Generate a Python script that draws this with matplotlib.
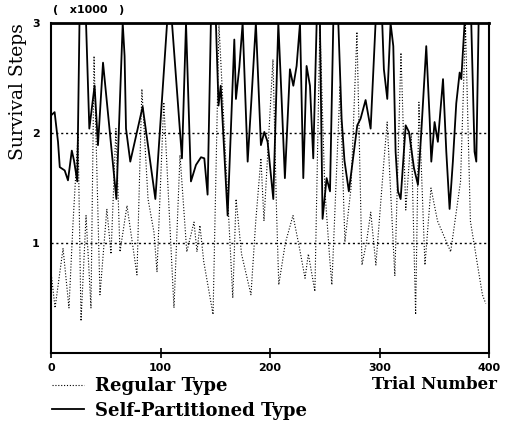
import numpy as np
import matplotlib
matplotlib.use('Agg')
import matplotlib.pyplot as plt
from matplotlib.lines import Line2D

#%% data (survival steps in units of 1000)
self_trial = [0, 3.3, 6.4, 8, 12.5, 15.5, 19, 21, 24, 26, 32, 35, 39.8, 42.9, 47.5,
              59.7, 65.5, 67.2, 68.5, 72.4, 83.7, 95.3, 106, 110.5, 119.6, 123.3,
              127.8, 132.4, 137, 140, 143, 146, 150.6, 153, 155, 161.3, 167.4,
              168.9, 172, 175, 179.6, 183, 187.1, 191.7, 194.8, 197.8, 203, 207.6,
              210.6, 213.6, 218.2, 221.3, 224.3, 227.4, 230.4, 233.4, 236.5, 239.5,
              242.6, 245.6, 248, 251.7, 254.8, 257.8, 262.4, 265.4, 268, 272,
              279.7, 282.7, 287.3, 291.9, 296.4, 302.5, 304, 307.1, 310.1, 312.6,
              314.7, 316.9, 319.3, 323.9, 326.9, 331.5, 335.1, 338, 342.7, 345.8,
              347.3, 350.3, 353.3, 358, 361, 364, 367, 370.1, 373.2, 374.7, 377.7,
              383.8, 386.8, 388.4, 390.5, 396]
self_steps = [2.16, 2.19, 1.92, 1.69, 1.66, 1.57, 1.84, 1.75, 1.56, 3.0, 3.0, 2.04, 2.43,
              1.89, 2.64, 1.40, 3.0, 2.70, 2.04, 1.74, 2.24, 1.40, 3.0, 3.0, 1.77, 3.0,
              1.56, 1.71, 1.78, 1.77, 1.44, 3.0, 3.0, 2.25, 2.43, 1.25, 2.85, 2.31,
              2.60, 3.0, 1.74, 2.30, 3.0, 1.89, 2.01, 1.92, 1.40, 3.0, 2.31, 1.59,
              2.58, 2.43, 2.61, 3.0, 1.59, 2.61, 2.43, 1.77, 3.0, 3.0, 1.22, 1.59,
              1.47, 3.0, 3.0, 2.13, 1.75, 1.47, 2.07, 2.13, 2.30, 2.04, 3.0, 3.0,
              2.58, 2.31, 3.0, 2.79, 1.83, 1.47, 1.40, 2.07, 2.01, 1.68, 1.53, 1.98,
              2.79, 2.13, 1.74, 2.10, 1.92, 2.49, 1.83, 1.31, 1.74, 2.27, 2.55, 2.49,
              3.0, 3.0, 1.83, 1.74, 3.0, 3.0]

reg_trial = [0, 3.7, 11, 16.4, 20, 24.7, 27.4, 32, 36.5, 39.3, 44.7, 51, 54.8, 59.3,
             63, 69.4, 78.5, 83, 88.6, 94, 96.8, 103, 112.3, 117.8, 124, 130.6,
             133.3, 136, 139.5, 148, 153.4, 166, 169, 174, 182.6, 187, 191.7, 194.5,
             202.7, 206, 208, 214, 221, 227, 232, 235, 241, 245.6, 250, 254.5, 256.5,
             264, 268.4, 274, 279.4, 284, 288, 292, 296.7, 304, 307, 314, 319.6,
             324, 329, 333, 336, 341.5, 347, 353, 365, 374, 378.5, 383, 391, 394,
             397]
reg_steps = [0.74, 0.41, 0.95, 0.41, 1.16, 2.0, 0.29, 1.25, 0.41, 2.70, 0.53, 1.31,
             0.90, 2.04, 0.92, 1.34, 0.71, 2.40, 1.40, 1.10, 0.74, 2.28, 0.41, 1.80,
             0.92, 1.19, 0.92, 1.16, 0.83, 0.35, 2.98, 0.50, 1.40, 0.90, 0.53, 1.20,
             1.77, 1.20, 2.67, 1.28, 0.62, 1.00, 1.25, 0.95, 0.68, 0.90, 0.56, 2.98,
             1.50, 0.86, 0.62, 2.43, 1.01, 1.50, 2.92, 0.80, 1.00, 1.28, 0.80, 1.74,
             2.10, 0.70, 2.73, 1.30, 2.00, 0.35, 2.28, 0.80, 1.50, 1.20, 0.92, 1.56,
             2.98, 1.20, 0.71, 0.53, 0.45]

x_ticks = [0, 100, 200, 300, 400]
y_ticks = [1, 2, 3]

#%%
fig = plt.figure(figsize=(5.08, 4.23), dpi=100)
ax = fig.add_axes([0.1004, 0.1655, 0.8622, 0.78])

reg_style = (0, (1, 1.6))
ax.plot(reg_trial, reg_steps, color='black', lw=0.8, ls=reg_style)
ax.plot(self_trial, self_steps, color='black', lw=1.3)

# dotted reference lines at 1 and 2
for yv in [1, 2]:
    ax.axhline(yv, color='black', lw=1.0, ls=(0, (1.5, 2)))

ax.set_xlim(0, 400)
ax.set_ylim(0, 3)
ax.set_xticks(x_ticks)
ax.set_yticks(y_ticks)
ax.set_xticklabels([str(v) for v in x_ticks], fontsize=8, fontweight='bold')
ax.set_yticklabels([str(v) for v in y_ticks], fontsize=8, fontweight='bold')
ax.tick_params(axis='x', direction='inout', length=7, width=1.2, pad=4)
ax.tick_params(axis='y', direction='in', length=0, pad=8)
for s in ax.spines.values():
    s.set_linewidth(1.5)
ax.spines['top'].set_linewidth(2.0)

# y label and scale note
fig.text(0.036, 0.7825, 'Survival Steps', family='DejaVu Serif', fontsize=13.5,
         rotation=90, ha='center', va='center')
fig.text(0.104, 0.976, '(   x1000   )', fontsize=8, fontweight='bold', va='center')

# legend below the plot
handles = [Line2D([], [], color='black', lw=0.8, ls=reg_style),
           Line2D([], [], color='black', lw=1.3)]
fig.legend(handles, ['Regular Type', 'Self-Partitioned Type'], loc='upper left',
           bbox_to_anchor=(0.102, 0.108), frameon=False, handlelength=1.8,
           handletextpad=0.6, labelspacing=0.35, borderpad=0, borderaxespad=0,
           prop={'family': 'DejaVu Serif', 'size': 13, 'weight': 'semibold'})
fig.text(0.732, 0.091, 'Trial Number', family='DejaVu Serif', fontsize=12,
         fontweight='semibold', va='center')

fig.savefig('out.png', dpi=100)
